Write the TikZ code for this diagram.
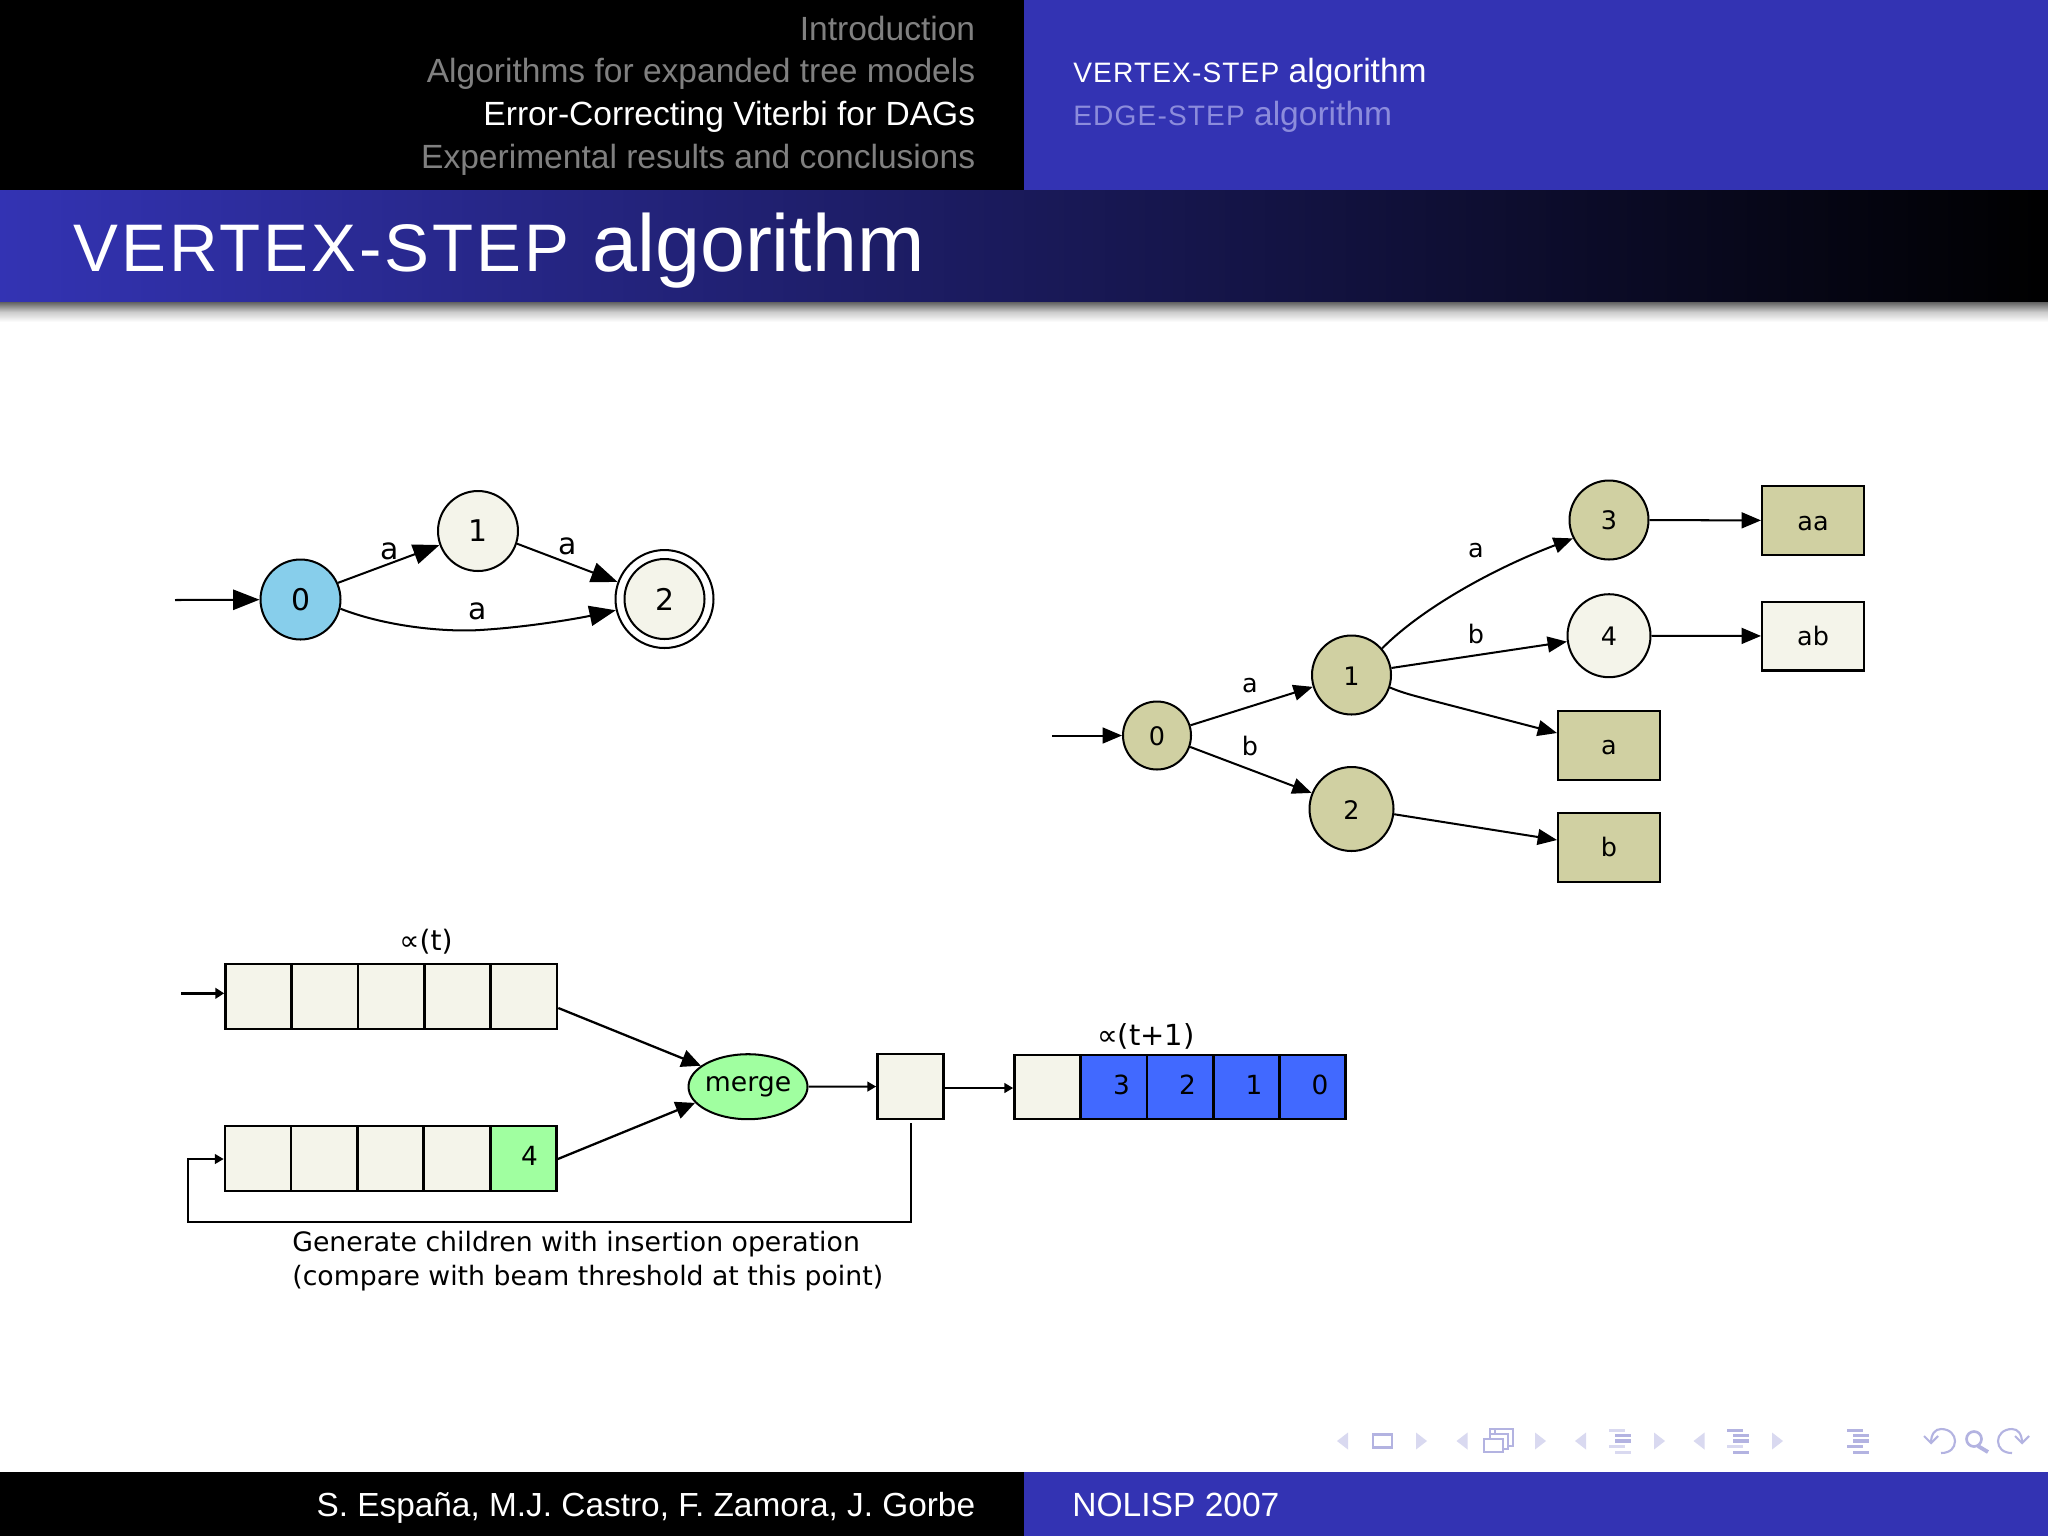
\documentclass[tikz,border=0pt]{standalone}
\usepackage{fontspec}
\usetikzlibrary{arrows.meta,shapes.geometric}
\setmainfont{Liberation Sans}
\newfontfamily\diagfont{DejaVu Sans}
\definecolor{bblue}{RGB}{51,51,179}
\definecolor{cellc}{RGB}{244,244,234}
\definecolor{beige}{RGB}{208,208,162}
\definecolor{skyc}{RGB}{135,206,235}
\definecolor{greenc}{RGB}{160,255,160}
\definecolor{royal}{RGB}{65,105,255}
\definecolor{menugray}{RGB}{128,128,128}
\definecolor{subdim}{RGB}{140,140,220}
\definecolor{navstrong}{RGB}{179,179,225}
\definecolor{navweak}{RGB}{217,217,240}
\newcommand{\menusc}[1]{{\fontsize{16}{16}\selectfont\addfontfeature{LetterSpace=4}#1}}
\tikzset{
  base/.style={line width=1.15pt,draw=black,inner sep=0pt,font=\diagfont},
  stA/.style={base,circle,minimum size=1.6cm,font=\diagfont\fontsize{17}{17}\selectfont},
  stB/.style={base,circle,text height=11.5pt,font=\diagfont\fontsize{14.5}{14.5}\selectfont},
  boxn/.style={base,rectangle,minimum width=2.04cm,minimum height=1.38cm,font=\diagfont\fontsize{14.5}{14.5}\selectfont},
  cell/.style={base,line width=1.35pt,rectangle,minimum width=1.326cm,minimum height=1.29cm,fill=cellc,text depth=2.5pt,font=\diagfont\fontsize{15}{15}\selectfont},
  lab/.style={font=\diagfont\fontsize{14.5}{14.5}\selectfont,inner sep=0pt},
  labA/.style={font=\diagfont\fontsize{17}{17}\selectfont,inner sep=0pt},
  big/.style={line width=1.15pt,-{Triangle[length=15pt,width=11.5pt]}},
  med/.style={line width=1.15pt,-{Triangle[length=11pt,width=9pt]}},
  medb/.style={line width=1.3pt,-{Triangle[length=11pt,width=10pt]}},
  small/.style={line width=1.15pt,-{Triangle[length=5pt,width=5.5pt]}},
  menu/.style={inner sep=0pt,font=\fontsize{19.1}{19.1}\selectfont},
  navw/.style={fill=navweak,draw=none},
  navs/.style={fill=navstrong,draw=none},
}
\newcommand{\navleft}[2]{\fill[navw] (#1,#2) -- (#1+11,#2-8.5) -- (#1+11,#2+8.5) -- cycle;}
\newcommand{\navright}[2]{\fill[navw] (#1+11,#2) -- (#1,#2-8.5) -- (#1,#2+8.5) -- cycle;}
\newcommand{\navbars}[4]{%
  \fill[#2] (#1,1428.5) rectangle ++(16,3.3);
  \fill[#3] (#1+6,1434) rectangle ++(16,3.3);
  \fill[#3] (#1+6,1439.2) rectangle ++(16,3.3);
  \fill[#4] (#1,1445) rectangle ++(16,3.3);
  \fill[#2] (#1+6,1450.5) rectangle ++(16,3.3);}
\begin{document}
\begin{tikzpicture}[x=0.02cm,y=-0.02cm]
\useasboundingbox (0,0) rectangle (2048,1536);
\fill[white] (0,0) rectangle (2048,1536);
% header
\fill[black] (0,0) rectangle (1024,190);
\fill[bblue] (1024,0) rectangle (2048,190);
\shade[left color=bblue,right color=black] (0,190) rectangle (2048,302);
\shade[top color=black!62,bottom color=white,middle color=black!20] (0,302) rectangle (2048,322);
\node[menu,anchor=base east,text=menugray] (m1) at (975.5,40) {Introduction};
\node[menu,anchor=base east,text=menugray] (m2) at (975.5,82.7) {Algorithms for expanded tree models};
\node[menu,anchor=base east,text=white] (m3) at (975.5,125.7) {Error-Correcting Viterbi for DAGs};
\node[menu,anchor=base east,text=menugray] (m4) at (975.5,168.5) {Experimental results and conclusions};
\node[menu,anchor=base west,text=white] (s1) at (1073,82.7) {\menusc{VERTEX-STEP} algorithm};
\node[menu,anchor=base west,text=subdim] (s2) at (1073,125.7) {\menusc{EDGE-STEP} algorithm};
\node[inner sep=0pt,anchor=base west,text=white,font=\fontsize{46}{46}\selectfont] (title) at (73,271) {{\fontsize{38.3}{38.3}\selectfont\addfontfeature{LetterSpace=4.5}VERTEX-STEP} algorithm};
% footer
\fill[black] (0,1472) rectangle (1024,1536);
\fill[bblue] (1024,1472) rectangle (2048,1536);
\node[menu,anchor=base east,text=white,font=\fontsize{19}{19}\selectfont] (f1) at (975.5,1516) {S. España, M.J. Castro, F. Zamora, J. Gorbe};
\node[menu,anchor=base west,text=white] (f2) at (1072,1516) {NOLISP 2007};
% nav symbols
\navleft{1337}{1441}
\draw[navstrong,line width=1.2pt] (1373,1434.5) rectangle (1392,1447.5);
\navright{1416}{1441}
\navleft{1456.5}{1441}
\draw[navstrong,line width=1.2pt,fill=white] (1490,1429) rectangle (1513,1446);
\draw[navstrong,line width=1.2pt,fill=white] (1495,1434) -- (1495,1429) -- (1513,1429) -- (1513,1446);
\draw[navstrong,line width=1.2pt,fill=white] (1490,1434) rectangle (1508,1449);
\draw[navstrong,line width=1.2pt,fill=white] (1484,1439) rectangle (1503,1452);
\navright{1535}{1441}
\navleft{1575}{1441}
\navbars{1609}{navweak}{navstrong}{navweak}
\navright{1654}{1441}
\navleft{1693.5}{1441}
\navbars{1727}{navstrong}{navstrong}{navweak}
\navright{1772}{1441}
\navbars{1847}{navstrong}{navstrong}{navstrong}
\draw[navstrong,line width=1.2pt] (1931,1443) .. controls (1931,1434) and (1935,1429) .. (1941,1429) .. controls (1950,1429) and (1955,1435) .. (1955,1441) .. controls (1955,1448) and (1950,1453) .. (1941,1453);
\draw[navstrong,line width=1.2pt] (1924,1436) -- (1931,1443) -- (1938,1436);
\draw[navstrong,line width=1.5pt] (1974,1439) circle (7.5);
\draw[navstrong,line width=2.2pt] (1978,1446) -- (1988,1452);
\draw[navstrong,line width=1.2pt] (2022,1443) .. controls (2022,1434) and (2018,1429) .. (2012,1429) .. controls (2003,1429) and (1998,1435) .. (1998,1441) .. controls (1998,1448) and (2003,1453) .. (2012,1453);
\draw[navstrong,line width=1.2pt] (2029,1436) -- (2022,1443) -- (2015,1436);
% upper-left automaton
\coordinate (sA) at (175,600);
\node[stA,fill=skyc] (a0) at (300.5,599.5) {0};
\node[stA,fill=cellc] (a1) at (478,531) {1};
\node[stA,fill=cellc] (a2) at (664.5,599) {2};
\node[base,circle,minimum size=1.96cm] (a2o) at (664.5,599) {};
\draw[big] (sA) -- (a0);
\draw[big] (a0.24) -- (a1.200);
\draw[big] (a1.-18) -- (a2o.160);
\draw[big] (a0.-13) .. controls (390,628) and (450,632) .. (480,630) .. controls (530,627) and (580,618) .. (a2o.193);
\node[labA] (la1) at (390,551) {a};
\node[labA] (la2) at (568,546) {a};
\node[labA] (la3) at (478,611) {a};
% upper-right tree
\coordinate (sB) at (1052,735.5);
\node[stB,fill=beige,minimum size=1.36cm] (t0) at (1157,735.5) {0};
\node[stB,fill=beige,minimum size=1.58cm] (t1) at (1351.5,675) {1};
\node[stB,fill=beige,minimum size=1.68cm] (t2) at (1351.5,809) {2};
\node[stB,fill=beige,minimum size=1.58cm] (t3) at (1609,520) {3};
\node[stB,fill=cellc,minimum size=1.66cm] (t4) at (1609,635.7) {4};
\node[boxn,fill=beige,text height=11.5pt] (baa) at (1813,520.5) {aa};
\node[boxn,fill=cellc] (bab) at (1813,636) {ab};
\node[boxn,fill=beige,text height=11.5pt] (ba) at (1609,745) {a};
\node[boxn,fill=beige] (bb) at (1609,847) {b};
\draw[med] (sB) -- (t0);
\draw[med] (t0.17) -- (t1.197);
\draw[med] (t0.-19) -- (t2.158);
\draw[med] (t1.41) .. controls (1420,610) and (1490,570) .. (t3.207);
\draw[med] (t1.10) -- (t4.188);
\draw[med] (t1.-18) .. controls (1405,694) and (1420,697) .. (1430,700) -- (ba.west |- 0,733);
\draw[med] (t2.-7) -- (bb.west |- 0,840);
\draw[med] (t3) -- (baa);
\draw[med] (t4) -- (bab);
\node[lab] (lt1) at (1476,551) {a};
\node[lab] (lt2) at (1476,634) {b};
\node[lab] (lt3) at (1250,686) {a};
\node[lab] (lt4) at (1250,746) {b};
% beam
\node[lab,font=\diagfont\fontsize{16}{16}\selectfont] (alphaT) at (426,942) {∝(t)};
\coordinate (sC) at (181,993.3);
\foreach \n/\x in {1/258.5,2/324.7,3/391,4/457.5,5/524}{
  \node[cell] (u\n) at (\x,996.5) {};
  \node[cell] (d\n) at (\x-0.5,1158.5) {};
}
\node[cell,fill=greenc] (d5x) at (523.5,1158.5) {\hspace*{0.24cm}4};
\node[base,ellipse,fill=greenc,minimum width=2.38cm,minimum height=1.3cm,font=\diagfont\fontsize{15.2}{15.2}\selectfont] (merge) at (748,1086.7) {\makebox[1.5cm]{\raisebox{-1.2pt}{merge}}};
\node[cell] (one) at (910.5,1086.5) {};
\coordinate (oneS) at (910.5,1123);
\coordinate (fbA) at (910.5,1222);
\coordinate (fbB) at (188,1222);
\coordinate (fbC) at (188,1159);
\node[lab,font=\diagfont\fontsize{16.5}{16.5}\selectfont] (alphaN) at (1146,1036) {∝(t+1)};
\node[cell] (r1) at (1047.5,1087) {};
\foreach \n/\x/\t in {2/1114/3,3/1180/2,4/1246.5/1,5/1312.5/0}{
  \node[cell,fill=royal] (r\n) at (\x,1087) {\hspace*{0.3cm}\t};
}
\draw[line width=1.6pt,-{Triangle[length=5pt,width=6pt]}] (sC) -- (u1.west |- sC);
\draw[medb] (u5.east |- 0,1008) -- (merge.156);
\draw[medb] (d5x.east |- 0,1159) -- (merge.197);
\draw[small] (merge) -- (one);
\draw[small] (one.east |- 0,1088) -- (r1.west |- 0,1088);
\draw[small] (oneS) -- (fbA) -- (fbB) -- (fbC) -- (d1.west |- fbC);
\node[lab,anchor=base west,align=left,font=\diagfont\fontsize{15.2}{15.2}\selectfont] (cap1) at (292,1251) {Generate children with insertion operation};
\node[lab,anchor=base west,align=left,font=\diagfont\fontsize{15.2}{15.2}\selectfont] (cap2) at (292,1285) {(compare with beam threshold at this point)};
\end{tikzpicture}
\end{document}
